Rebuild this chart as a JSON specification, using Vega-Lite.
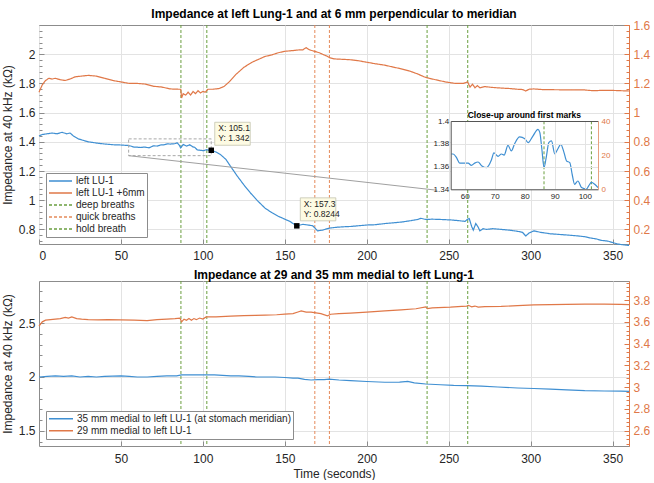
{
"$schema":"https://vega.github.io/schema/vega-lite/v6.json",
"padding":{"left":0,"top":7,"right":0,"bottom":0},
"config":{
 "font":"Liberation Sans",
 "view":{"stroke":"#8c8c8c"},
 "axis":{"labelFont":"Liberation Sans","labelFontSize":12,"labelColor":"#262626","titleFont":"Liberation Sans","titleFontSize":12,"titleFontWeight":"normal","titleColor":"#262626","domainColor":"#8c8c8c","gridColor":"#e3e3e3","tickColor":"#8c8c8c"},
 "legend":{"title":null,"symbolType":"stroke","labelFont":"Liberation Sans","labelFontSize":10,"labelColor":"#262626","labelOffset":3,"padding":2,"strokeColor":"#8c8c8c","fillColor":"white","rowPadding":0,"orient":"bottom-left","offset":7,"labelLimit":400},
 "title":{"fontSize":12,"fontWeight":"bold","color":"#000","offset":0,"font":"Liberation Sans"}
},
"datasets":{
 "events":[{"t":86.6,"series":"deep breaths"},{"t":102.4,"series":"deep breaths"},{"t":168.3,"series":"quick breaths"},{"t":177.2,"series":"quick breaths"},{"t":236.8,"series":"hold breath"},{"t":261.6,"series":"hold breath"}],
 "top_blue":[{"t":0,"v":1.44},{"t":2,"v":1.45},{"t":5,"v":1.455},{"t":8,"v":1.46},{"t":11,"v":1.455},{"t":14,"v":1.465},{"t":17,"v":1.455},{"t":19,"v":1.46},{"t":21,"v":1.44},{"t":24,"v":1.42},{"t":27,"v":1.41},{"t":30,"v":1.4},{"t":33,"v":1.395},{"t":36,"v":1.39},{"t":40,"v":1.385},{"t":45,"v":1.38},{"t":50,"v":1.378},{"t":54,"v":1.375},{"t":56,"v":1.371},{"t":58,"v":1.363},{"t":60,"v":1.363},{"t":62,"v":1.361},{"t":64.4,"v":1.364},{"t":67.2,"v":1.359},{"t":69.7,"v":1.372},{"t":72.2,"v":1.371},{"t":74.4,"v":1.3786},{"t":76.6,"v":1.38},{"t":78.3,"v":1.386},{"t":80,"v":1.3845},{"t":82.7,"v":1.3868},{"t":84.4,"v":1.3927},{"t":85.7,"v":1.375},{"t":86.4,"v":1.359},{"t":88,"v":1.381},{"t":90,"v":1.371},{"t":92,"v":1.3795},{"t":93.9,"v":1.365},{"t":95,"v":1.363},{"t":96.6,"v":1.344},{"t":98.9,"v":1.3415},{"t":100.5,"v":1.339},{"t":102.2,"v":1.346},{"t":104,"v":1.342},{"t":105.1,"v":1.342},{"t":108,"v":1.33},{"t":111,"v":1.31},{"t":114,"v":1.28},{"t":117,"v":1.23},{"t":121,"v":1.165},{"t":125,"v":1.105},{"t":129,"v":1.05},{"t":133,"v":1.0},{"t":138,"v":0.945},{"t":142,"v":0.915},{"t":146,"v":0.89},{"t":150,"v":0.87},{"t":153,"v":0.855},{"t":157.3,"v":0.8244},{"t":161,"v":0.835},{"t":164,"v":0.83},{"t":167,"v":0.825},{"t":170,"v":0.79},{"t":173,"v":0.795},{"t":176,"v":0.805},{"t":178,"v":0.81},{"t":182,"v":0.815},{"t":186,"v":0.818},{"t":190,"v":0.82},{"t":195,"v":0.825},{"t":200,"v":0.83},{"t":205,"v":0.832},{"t":211,"v":0.84},{"t":216,"v":0.845},{"t":221,"v":0.85},{"t":227,"v":0.86},{"t":231,"v":0.868},{"t":233,"v":0.876},{"t":236,"v":0.868},{"t":240,"v":0.87},{"t":245,"v":0.868},{"t":251,"v":0.865},{"t":256,"v":0.86},{"t":260,"v":0.855},{"t":261.5,"v":0.87},{"t":262.5,"v":0.875},{"t":264,"v":0.82},{"t":265,"v":0.795},{"t":266.5,"v":0.84},{"t":268,"v":0.815},{"t":269,"v":0.79},{"t":271,"v":0.805},{"t":273,"v":0.8},{"t":277,"v":0.805},{"t":282,"v":0.8},{"t":287,"v":0.795},{"t":292,"v":0.787},{"t":295,"v":0.78},{"t":297,"v":0.755},{"t":299,"v":0.775},{"t":302,"v":0.79},{"t":306,"v":0.78},{"t":312,"v":0.77},{"t":318,"v":0.765},{"t":324,"v":0.76},{"t":329,"v":0.755},{"t":333,"v":0.75},{"t":337,"v":0.74},{"t":340,"v":0.735},{"t":343,"v":0.725},{"t":347,"v":0.72},{"t":350,"v":0.71},{"t":353,"v":0.7},{"t":356,"v":0.695},{"t":360,"v":0.69}],
 "top_orange":[{"t":0,"v":1.14},{"t":2,"v":1.19},{"t":4,"v":1.22},{"t":6,"v":1.235},{"t":8,"v":1.23},{"t":10,"v":1.235},{"t":13,"v":1.225},{"t":16,"v":1.22},{"t":19,"v":1.23},{"t":22,"v":1.245},{"t":26,"v":1.25},{"t":30,"v":1.255},{"t":35,"v":1.25},{"t":40,"v":1.235},{"t":45,"v":1.22},{"t":50,"v":1.21},{"t":55,"v":1.2},{"t":60,"v":1.2},{"t":65,"v":1.195},{"t":70,"v":1.18},{"t":75,"v":1.175},{"t":80,"v":1.162},{"t":85,"v":1.16},{"t":86.5,"v":1.16},{"t":87,"v":1.1},{"t":88,"v":1.13},{"t":89.5,"v":1.12},{"t":91,"v":1.14},{"t":92.5,"v":1.12},{"t":94,"v":1.145},{"t":95.5,"v":1.13},{"t":97,"v":1.15},{"t":98.5,"v":1.135},{"t":100,"v":1.145},{"t":101.5,"v":1.14},{"t":103,"v":1.16},{"t":106,"v":1.16},{"t":110,"v":1.165},{"t":113,"v":1.18},{"t":116,"v":1.21},{"t":120,"v":1.26},{"t":125,"v":1.31},{"t":130,"v":1.345},{"t":134,"v":1.365},{"t":138,"v":1.385},{"t":142,"v":1.395},{"t":146,"v":1.41},{"t":150,"v":1.42},{"t":155,"v":1.425},{"t":159,"v":1.43},{"t":161,"v":1.43},{"t":163,"v":1.445},{"t":165,"v":1.43},{"t":168,"v":1.42},{"t":171,"v":1.41},{"t":174,"v":1.395},{"t":176,"v":1.385},{"t":177.5,"v":1.375},{"t":180,"v":1.368},{"t":185,"v":1.365},{"t":190,"v":1.362},{"t":195,"v":1.355},{"t":200,"v":1.345},{"t":205,"v":1.335},{"t":211,"v":1.325},{"t":216,"v":1.312},{"t":221,"v":1.3},{"t":226,"v":1.285},{"t":231,"v":1.265},{"t":235,"v":1.245},{"t":238,"v":1.235},{"t":242,"v":1.225},{"t":248,"v":1.21},{"t":254,"v":1.2},{"t":259,"v":1.2},{"t":261.5,"v":1.21},{"t":263,"v":1.175},{"t":264.5,"v":1.195},{"t":266,"v":1.17},{"t":267.5,"v":1.185},{"t":269,"v":1.17},{"t":272,"v":1.178},{"t":277,"v":1.172},{"t":282,"v":1.168},{"t":287,"v":1.165},{"t":292,"v":1.16},{"t":295,"v":1.158},{"t":297,"v":1.148},{"t":299,"v":1.16},{"t":302,"v":1.162},{"t":307,"v":1.158},{"t":312,"v":1.157},{"t":320,"v":1.156},{"t":327,"v":1.155},{"t":333,"v":1.155},{"t":338,"v":1.15},{"t":343,"v":1.152},{"t":350,"v":1.152},{"t":355,"v":1.15},{"t":360,"v":1.148}],
 "inset_blue":[{"t":55.5,"v":1.371},{"t":56.1,"v":1.371},{"t":57.2,"v":1.368},{"t":58.3,"v":1.363},{"t":60,"v":1.363},{"t":61.1,"v":1.363},{"t":62.2,"v":1.361},{"t":63.3,"v":1.363},{"t":64.4,"v":1.364},{"t":65.7,"v":1.3605},{"t":67.2,"v":1.359},{"t":68.9,"v":1.366},{"t":69.7,"v":1.372},{"t":71.1,"v":1.369},{"t":72.2,"v":1.371},{"t":73.1,"v":1.37},{"t":74.4,"v":1.3786},{"t":75.5,"v":1.3737},{"t":76.6,"v":1.38},{"t":78.3,"v":1.386},{"t":80,"v":1.3845},{"t":81.1,"v":1.381},{"t":82.7,"v":1.3868},{"t":84.4,"v":1.3927},{"t":85,"v":1.39},{"t":85.7,"v":1.375},{"t":86.4,"v":1.359},{"t":87.2,"v":1.369},{"t":88,"v":1.381},{"t":88.9,"v":1.3825},{"t":90,"v":1.371},{"t":90.9,"v":1.375},{"t":92,"v":1.3795},{"t":93.1,"v":1.372},{"t":93.9,"v":1.365},{"t":95,"v":1.3634},{"t":95.8,"v":1.353},{"t":96.6,"v":1.3444},{"t":97.7,"v":1.3473},{"t":98.9,"v":1.3415},{"t":100.5,"v":1.3402},{"t":101.3,"v":1.343},{"t":102.2,"v":1.346},{"t":103.3,"v":1.3444},{"t":104.4,"v":1.3415}],
 "inset_marks":[{"t":86.4},{"t":102.2}],
 "tips":[{"t":105.1,"v":1.342,"lx":"X: 105.1","ly":"Y: 1.342"},{"t":157.3,"v":0.8244,"lx":"X: 157.3","ly":"Y: 0.8244"}],
 "bot_blue":[{"t":0,"v":2.0},{"t":5,"v":2.005},{"t":10,"v":2.01},{"t":15,"v":2.005},{"t":20,"v":2.01},{"t":25,"v":2.0},{"t":30,"v":2.005},{"t":35,"v":2.0},{"t":40,"v":2.005},{"t":50,"v":2.01},{"t":55,"v":2.005},{"t":60,"v":2.0},{"t":66,"v":2.0},{"t":72,"v":2.005},{"t":78,"v":2.01},{"t":84,"v":2.01},{"t":87,"v":2.02},{"t":92,"v":2.02},{"t":97,"v":2.02},{"t":102,"v":2.02},{"t":107,"v":2.02},{"t":112,"v":2.015},{"t":117,"v":2.01},{"t":122,"v":2.01},{"t":128,"v":2.005},{"t":133,"v":2.0},{"t":138,"v":2.0},{"t":144,"v":2.0},{"t":150,"v":1.995},{"t":155,"v":1.99},{"t":158,"v":1.99},{"t":162,"v":1.978},{"t":166,"v":1.972},{"t":170,"v":1.975},{"t":174,"v":1.975},{"t":177,"v":1.98},{"t":183,"v":1.972},{"t":190,"v":1.966},{"t":200,"v":1.958},{"t":211,"v":1.951},{"t":220,"v":1.952},{"t":225,"v":1.96},{"t":229,"v":1.946},{"t":236,"v":1.935},{"t":245,"v":1.928},{"t":253,"v":1.922},{"t":261,"v":1.92},{"t":270,"v":1.915},{"t":280,"v":1.907},{"t":292,"v":1.898},{"t":302,"v":1.893},{"t":312,"v":1.888},{"t":322,"v":1.88},{"t":333,"v":1.873},{"t":345,"v":1.87},{"t":355,"v":1.868},{"t":360,"v":1.866}],
 "bot_orange":[{"t":0,"v":3.56},{"t":2,"v":3.6},{"t":4,"v":3.615},{"t":7,"v":3.62},{"t":10,"v":3.625},{"t":13,"v":3.63},{"t":16,"v":3.64},{"t":18,"v":3.635},{"t":20,"v":3.645},{"t":23,"v":3.63},{"t":26,"v":3.625},{"t":30,"v":3.62},{"t":36,"v":3.618},{"t":42,"v":3.62},{"t":50,"v":3.618},{"t":58,"v":3.615},{"t":66,"v":3.612},{"t":72,"v":3.62},{"t":78,"v":3.625},{"t":83,"v":3.63},{"t":86,"v":3.635},{"t":87,"v":3.6},{"t":88.5,"v":3.625},{"t":90,"v":3.615},{"t":91.5,"v":3.63},{"t":93,"v":3.615},{"t":94.5,"v":3.63},{"t":96,"v":3.62},{"t":98,"v":3.635},{"t":100,"v":3.625},{"t":102,"v":3.645},{"t":108,"v":3.645},{"t":117,"v":3.652},{"t":125,"v":3.657},{"t":132,"v":3.66},{"t":138,"v":3.662},{"t":145,"v":3.665},{"t":150,"v":3.67},{"t":155,"v":3.675},{"t":158,"v":3.69},{"t":160,"v":3.7},{"t":163,"v":3.69},{"t":166,"v":3.69},{"t":168,"v":3.685},{"t":172,"v":3.675},{"t":176,"v":3.655},{"t":178,"v":3.67},{"t":183,"v":3.675},{"t":190,"v":3.68},{"t":200,"v":3.69},{"t":211,"v":3.7},{"t":221,"v":3.71},{"t":230,"v":3.72},{"t":236,"v":3.737},{"t":237,"v":3.722},{"t":240,"v":3.728},{"t":251,"v":3.735},{"t":258,"v":3.742},{"t":261,"v":3.745},{"t":262,"v":3.752},{"t":264,"v":3.738},{"t":266,"v":3.745},{"t":268,"v":3.735},{"t":272,"v":3.74},{"t":282,"v":3.742},{"t":292,"v":3.748},{"t":302,"v":3.755},{"t":312,"v":3.758},{"t":322,"v":3.76},{"t":333,"v":3.762},{"t":345,"v":3.762},{"t":355,"v":3.76},{"t":360,"v":3.758}],
 "one":[{}]
},
"spacing":6,
"resolve":{"scale":{"color":"independent","strokeDash":"independent"}},
"vconcat":[
 {
  "width":590,"height":219,
  "title":{"text":"Impedance at left Lung-1 and at 6 mm perpendicular to meridian","offset":-2},
  "resolve":{"scale":{"x":"independent","y":"independent"}},
  "layer":[
   {"data":{"name":"events"},"mark":{"type":"rule","strokeWidth":1},
    "encoding":{
     "x":{"field":"t","type":"quantitative","scale":{"domain":[0,360],"nice":false,"zero":false},"axis":null},
     "color":{"field":"series","type":"nominal","scale":{"domain":["left LU-1","left LU-1 +6mm","deep breaths","quick breaths","hold breath"],"range":["#3f8fd2","#e07848","#6a9f3f","#e58a5a","#6a9f3f"]},"legend":{"symbolSize":529,"symbolStrokeWidth":1.5,"clipHeight":12}},
     "strokeDash":{"field":"series","type":"nominal","scale":{"domain":["left LU-1","left LU-1 +6mm","deep breaths","quick breaths","hold breath"],"range":[[1,0],[1,0],[3,2],[3,2],[3,2]]},"legend":{"symbolSize":529,"symbolStrokeWidth":1.5,"clipHeight":12}}}},
   {"data":{"name":"top_blue"},"mark":{"type":"line","strokeWidth":1.2},
    "encoding":{
     "x":{"field":"t","type":"quantitative","scale":{"domain":[0,360],"nice":false,"zero":false},"axis":{"orient":"bottom","values":[0,50,100,150,200,250,300,350],"grid":true,"title":null,"domain":false,"tickSize":-5,"labelPadding":11}},
     "y":{"field":"v","type":"quantitative","scale":{"domain":[0.7,2.2],"nice":false,"zero":false},"axis":{"orient":"left","values":[0.8,1,1.2,1.4,1.6,1.8,2],"format":"~g","grid":true,"title":"Impedance at 40 kHz (kΩ)","titlePadding":4,"domain":false,"tickSize":-5,"labelPadding":9}},
     "color":{"datum":"left LU-1"},"strokeDash":{"datum":"left LU-1"}}},
   {"data":{"name":"top_orange"},"mark":{"type":"line","strokeWidth":1.2},
    "encoding":{
     "x":{"field":"t","type":"quantitative","scale":{"domain":[0,360],"nice":false,"zero":false},"axis":null},
     "y":{"field":"v","type":"quantitative","scale":{"domain":[0.1,1.6],"nice":false,"zero":false},"axis":{"orient":"right","values":[0.2,0.4,0.6,0.8,1,1.2,1.4,1.6],"format":"~g","grid":false,"title":null,"labelColor":"#e07848","domainColor":"#e07848","tickColor":"#e07848","domain":true,"tickSize":-5,"labelPadding":9}},
     "color":{"datum":"left LU-1 +6mm"},"strokeDash":{"datum":"left LU-1 +6mm"}}},
   {"data":{"name":"one"},"mark":{"type":"rule","opacity":0},
    "encoding":{"y":{"datum":1,"type":"quantitative","scale":{"domain":[0.7,2.2],"nice":false,"zero":false},"axis":{"orient":"left","values":[0.72,0.76,0.8,0.84,0.88,0.92,0.96,1.0,1.04,1.08,1.12,1.16,1.2,1.24,1.28,1.32,1.36,1.4,1.44,1.48,1.52,1.56,1.6,1.64,1.68,1.72,1.76,1.8,1.84,1.88,1.92,1.96,2.0,2.04,2.08,2.12,2.16,2.2],"labels":false,"domain":false,"grid":false,"tickSize":-3,"title":null}}}},
   {"data":{"name":"one"},"mark":{"type":"rule","opacity":0},
    "encoding":{"y":{"datum":1,"type":"quantitative","scale":{"domain":[0.1,1.6],"nice":false,"zero":false},"axis":{"orient":"right","values":[0.12,0.16,0.2,0.24,0.28,0.32,0.36,0.4,0.44,0.48,0.52,0.56,0.6,0.64,0.68,0.72,0.76,0.8,0.84,0.88,0.92,0.96,1.0,1.04,1.08,1.12,1.16,1.2,1.24,1.28,1.32,1.36,1.4,1.44,1.48,1.52,1.56,1.6],"labels":false,"domain":false,"grid":false,"tickSize":-3,"tickColor":"#e07848","title":null}}}},
   {"data":{"name":"one"},"mark":{"type":"rect","fill":null,"stroke":"#a8a8a8","strokeDash":[3,2],"strokeWidth":1},
    "encoding":{
     "x":{"datum":54.7,"type":"quantitative","scale":{"domain":[0,360],"nice":false,"zero":false},"axis":null},"x2":{"datum":105.1},
     "y":{"datum":1.305,"type":"quantitative","scale":{"domain":[0.7,2.2],"nice":false,"zero":false},"axis":null},"y2":{"datum":1.42}}},
   {"data":{"name":"one"},"mark":{"type":"rule","stroke":"#a0a0a0","strokeWidth":1},
    "encoding":{
     "x":{"datum":54.7,"type":"quantitative","scale":{"domain":[0,360],"nice":false,"zero":false},"axis":null},"x2":{"datum":243},
     "y":{"datum":1.305,"type":"quantitative","scale":{"domain":[0.7,2.2],"nice":false,"zero":false},"axis":null},"y2":{"datum":1.068}}},
   {"data":{"name":"tips"},"mark":{"type":"rect","fill":"#fdfbe3","stroke":"#c4c4b0","strokeWidth":0.8,"xOffset":3.5,"x2Offset":39,"yOffset":-28,"y2Offset":-5},
    "encoding":{
     "x":{"field":"t","type":"quantitative","scale":{"domain":[0,360],"nice":false,"zero":false},"axis":null},"x2":{"field":"t"},
     "y":{"field":"v","type":"quantitative","scale":{"domain":[0.7,2.2],"nice":false,"zero":false},"axis":null},"y2":{"field":"v"}}},
   {"data":{"name":"tips"},"mark":{"type":"text","align":"left","baseline":"middle","dx":7,"dy":-22,"fontSize":8.5,"color":"#222"},
    "encoding":{
     "x":{"field":"t","type":"quantitative","scale":{"domain":[0,360],"nice":false,"zero":false},"axis":null},
     "y":{"field":"v","type":"quantitative","scale":{"domain":[0.7,2.2],"nice":false,"zero":false},"axis":null},
     "text":{"field":"lx"}}},
   {"data":{"name":"tips"},"mark":{"type":"text","align":"left","baseline":"middle","dx":7,"dy":-12,"fontSize":8.5,"color":"#222"},
    "encoding":{
     "x":{"field":"t","type":"quantitative","scale":{"domain":[0,360],"nice":false,"zero":false},"axis":null},
     "y":{"field":"v","type":"quantitative","scale":{"domain":[0.7,2.2],"nice":false,"zero":false},"axis":null},
     "text":{"field":"ly"}}},
   {"data":{"name":"tips"},"mark":{"type":"point","shape":"square","filled":true,"color":"#000","size":30,"opacity":1},
    "encoding":{
     "x":{"field":"t","type":"quantitative","scale":{"domain":[0,360],"nice":false,"zero":false},"axis":null},
     "y":{"field":"v","type":"quantitative","scale":{"domain":[0.7,2.2],"nice":false,"zero":false},"axis":null}}},
   {"data":{"name":"one"},"mark":{"type":"rect","fill":"white","strokeWidth":0},
    "encoding":{
     "x":{"datum":55.3,"type":"quantitative","scale":{"domain":[55.3,104.4],"range":[411.7,559],"nice":false,"zero":false},"axis":{"orient":"top","offset":-96,"values":[60,70,80,90,100],"labels":false,"ticks":false,"grid":true,"domain":true,"domainColor":"#555","zindex":1,"title":null}},
     "x2":{"datum":104.4},
     "y":{"datum":1.34,"type":"quantitative","scale":{"domain":[1.34,1.4],"range":[164.3,96],"nice":false,"zero":false},"axis":{"orient":"left","offset":-411.7,"values":[1.34,1.36,1.38,1.4],"format":"~g","labelFontSize":8,"labelPadding":2,"grid":true,"domain":true,"domainColor":"#555","ticks":false,"zindex":1,"title":null}},
     "y2":{"datum":1.4}}},
   {"data":{"name":"inset_marks"},"mark":{"type":"rule","color":"#6a9f3f","strokeDash":[3,2],"strokeWidth":1},
    "encoding":{
     "x":{"field":"t","type":"quantitative","scale":{"domain":[55.3,104.4],"range":[411.7,559],"nice":false,"zero":false},"axis":null},
     "y":{"datum":1.34,"type":"quantitative","scale":{"domain":[1.34,1.4],"range":[164.3,96],"nice":false,"zero":false},"axis":null},
     "y2":{"datum":1.4}}},
   {"data":{"name":"inset_blue"},"mark":{"type":"line","strokeWidth":1.2,"color":"#3f8fd2","interpolate":"monotone"},
    "encoding":{
     "x":{"field":"t","type":"quantitative","scale":{"domain":[55.3,104.4],"range":[411.7,559],"nice":false,"zero":false},"axis":{"orient":"bottom","offset":-54.7,"values":[60,70,80,90,100],"labelFontSize":8,"labelPadding":3,"grid":false,"domain":true,"domainColor":"#555","ticks":false,"zindex":1,"title":null}},
     "y":{"field":"v","type":"quantitative","scale":{"domain":[1.34,1.4],"range":[164.3,96],"nice":false,"zero":false},"axis":null}}},
   {"data":{"name":"one"},"mark":{"type":"rule","opacity":0},
    "encoding":{"y":{"datum":0,"type":"quantitative","scale":{"domain":[0,40],"range":[164.3,96],"nice":false,"zero":false},"axis":{"orient":"right","offset":-31,"values":[0,20,40],"labelFontSize":8,"labelPadding":3,"labelColor":"#e07848","domainColor":"#e8a080","domain":true,"ticks":false,"grid":false,"zindex":1,"title":null}}}},
   {"data":{"name":"one"},"mark":{"type":"text","text":"Close-up around first marks","fontSize":8.5,"fontWeight":"bold","baseline":"bottom","dy":-1,"color":"#000"},
    "encoding":{
     "x":{"datum":79.85,"type":"quantitative","scale":{"domain":[55.3,104.4],"range":[411.7,559],"nice":false,"zero":false},"axis":null},
     "y":{"datum":1.4,"type":"quantitative","scale":{"domain":[1.34,1.4],"range":[164.3,96],"nice":false,"zero":false},"axis":null}}}
  ]
 },
 {
  "width":590,"height":165,
  "title":{"text":"Impedance at 29 and 35 mm medial to left Lung-1","offset":-1},
  "resolve":{"scale":{"x":"independent","y":"independent"}},
  "layer":[
   {"data":{"name":"events"},"mark":{"type":"rule","strokeWidth":1,"strokeDash":[3,2]},
    "encoding":{
     "x":{"field":"t","type":"quantitative","scale":{"domain":[0,360],"nice":false,"zero":false},"axis":null},
     "color":{"field":"series","type":"nominal","scale":{"domain":["35 mm medial to left LU-1 (at stomach meridian)","29 mm medial to left LU-1","deep breaths","quick breaths","hold breath"],"range":["#3f8fd2","#e07848","#6a9f3f","#e58a5a","#6a9f3f"]},"legend":{"values":["35 mm medial to left LU-1 (at stomach meridian)","29 mm medial to left LU-1"],"symbolSize":576,"symbolStrokeWidth":1.5,"clipHeight":11.5}}}},
   {"data":{"name":"bot_blue"},"mark":{"type":"line","strokeWidth":1.2},
    "encoding":{
     "x":{"field":"t","type":"quantitative","scale":{"domain":[0,360],"nice":false,"zero":false},"axis":{"orient":"bottom","values":[50,100,150,200,250,300,350],"grid":true,"title":"Time (seconds)","titlePadding":4,"domain":false,"tickSize":-5,"labelPadding":12}},
     "y":{"field":"v","type":"quantitative","scale":{"domain":[1.36,2.89],"nice":false,"zero":false},"axis":{"orient":"left","values":[1.5,2,2.5],"format":"~g","grid":true,"title":"Impedance at 40 kHz (kΩ)","titlePadding":4,"domain":false,"tickSize":-5,"labelPadding":9}},
     "color":{"datum":"35 mm medial to left LU-1 (at stomach meridian)"}}},
   {"data":{"name":"bot_orange"},"mark":{"type":"line","strokeWidth":1.2},
    "encoding":{
     "x":{"field":"t","type":"quantitative","scale":{"domain":[0,360],"nice":false,"zero":false},"axis":null},
     "y":{"field":"v","type":"quantitative","scale":{"domain":[2.46,3.975],"nice":false,"zero":false},"axis":{"orient":"right","values":[2.6,2.8,3,3.2,3.4,3.6,3.8],"format":"~g","grid":false,"title":null,"labelColor":"#e07848","domainColor":"#e07848","tickColor":"#e07848","domain":true,"tickSize":-5,"labelPadding":9}},
     "color":{"datum":"29 mm medial to left LU-1"}}},
   {"data":{"name":"one"},"mark":{"type":"rule","opacity":0},
    "encoding":{"y":{"datum":2,"type":"quantitative","scale":{"domain":[1.36,2.89],"nice":false,"zero":false},"axis":{"orient":"left","values":[1.4,1.5,1.6,1.7,1.8,1.9,2.0,2.1,2.2,2.3,2.4,2.5,2.6,2.7,2.8],"labels":false,"domain":false,"grid":false,"tickSize":-3,"title":null}}}},
   {"data":{"name":"one"},"mark":{"type":"rule","opacity":0},
    "encoding":{"y":{"datum":3,"type":"quantitative","scale":{"domain":[2.46,3.975],"nice":false,"zero":false},"axis":{"orient":"right","values":[2.48,2.52,2.56,2.6,2.64,2.68,2.72,2.76,2.8,2.84,2.88,2.92,2.96,3.0,3.04,3.08,3.12,3.16,3.2,3.24,3.28,3.32,3.36,3.4,3.44,3.48,3.52,3.56,3.6,3.64,3.68,3.72,3.76,3.8,3.84,3.88,3.92,3.96],"labels":false,"domain":false,"grid":false,"tickSize":-3,"tickColor":"#e07848","title":null}}}}
  ]
 }
]
}
